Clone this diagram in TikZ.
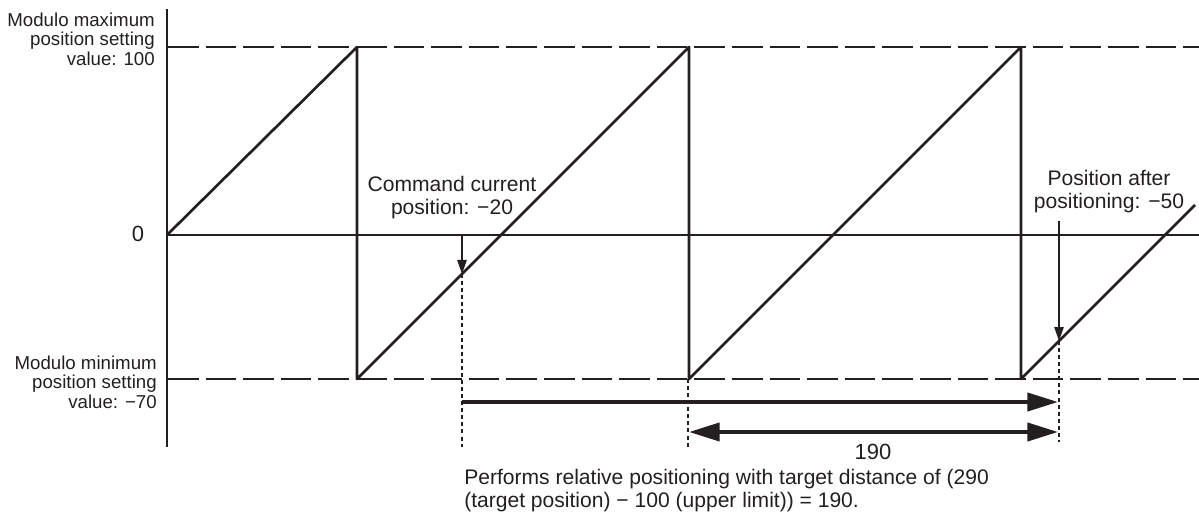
\documentclass[tikz,border=0pt]{standalone}
\usepackage{fontspec}
\setmainfont{Liberation Sans}
\usetikzlibrary{arrows.meta}
\definecolor{ink}{HTML}{231F20}
\begin{document}
\begin{tikzpicture}[x=0.75pt,y=-0.75pt,
  axisline/.style={line width=1.8pt, draw=ink},
  zeroline/.style={line width=1.1pt, draw=ink},
  limitline/.style={line width=2.2pt, draw=ink, dash pattern=on 22.9pt off 5.3pt},
  wave/.style={line width=2pt, draw=ink, line join=round},
  guide/.style={line width=1.1pt, draw=ink, dash pattern=on 3pt off 2.3pt},
  pointer/.style={line width=1.2pt, draw=ink, fill=ink, -{Triangle[length=10.5pt,width=7pt]}},
  span/.style={line width=3pt, draw=ink, -{Triangle[length=23pt,width=13.5pt]}},
  dspan/.style={line width=3pt, draw=ink, {Triangle[length=23pt,width=13.5pt]}-{Triangle[length=23pt,width=13.5pt]}},
  sidelabel/.style={font=\fontsize{14}{14.6}\selectfont, align=right, inner sep=0pt, text=ink, anchor=east},
  callout/.style={font=\fontsize{15.8}{17.2}\selectfont, align=center, inner sep=0pt, text=ink},
  bignum/.style={font=\fontsize{16.5}{18}\selectfont, inner sep=0pt, text=ink},
  footnote/.style={font=\fontsize{15.8}{17.2}\selectfont, align=left, inner sep=0pt, text=ink, anchor=west}
]
\useasboundingbox (0,0) rectangle (1199,513);

% key coordinates
\coordinate (axtop) at (167,9);
\coordinate (axbot) at (167,447);
\coordinate (z0) at (167,235);
\coordinate (zE) at (1199,235);
\coordinate (max0) at (168,47);
\coordinate (maxE) at (1199,47);
\coordinate (min0) at (168,379);
\coordinate (minE) at (1199,379);
\coordinate (p1) at (357,47);
\coordinate (q1) at (357,379);
\coordinate (p2) at (689,47);
\coordinate (q2) at (689,379);
\coordinate (p3) at (1021,47);
\coordinate (q3) at (1021,379);
\coordinate (wend) at (1195,205);
\coordinate (cmdtop) at (462,235);
\coordinate (cmdpt) at (462,274);
\coordinate (cmdbot) at (462,447);
\coordinate (g2bot) at (688,447);
\coordinate (g2top) at (688,379);
\coordinate (aftop) at (1059,221);
\coordinate (afpt) at (1059,341);
\coordinate (afbot) at (1059,442);
\coordinate (s1a) at (462,402);
\coordinate (s1b) at (1058,402);
\coordinate (s2a) at (689,432);
\coordinate (s2b) at (1058,432);

% axes and limit lines
\draw[limitline] (max0) -- (maxE);
\draw[limitline] (min0) -- (minE);
\draw[zeroline] (z0) -- (zE);
\draw[axisline] (axtop) -- (axbot);

% sawtooth
\draw[wave] (z0) -- (p1) -- (q1) -- (p2) -- (q2) -- (p3) -- (q3) -- (wend);

% guides
\draw[guide] (cmdpt) -- (cmdbot);
\draw[guide] (g2top) -- (g2bot);
\draw[guide] (afpt) -- (afbot);

% pointers
\draw[pointer] (cmdtop) -- (cmdpt);
\draw[pointer] (aftop) -- (afpt);

% spans
\draw[span] (s1a) -- (s1b);
\draw[dspan] (s2a) -- (s2b);

% labels
\node[sidelabel] (maxlbl) at (155,39) {Modulo maximum\\position setting\\value: 100};
\node[sidelabel] (minlbl) at (157,382) {Modulo minimum\\position setting\\value: −70};
\node[bignum] (zerolbl) at (138,234) {0};
\node[callout] (cmdlbl) at (452,198) {Command current\\position: −20};
\node[callout] (aflbl) at (1109,191.5) {Position after\\positioning: −50};
\node[bignum] (dist) at (873,452) {190};
\node[footnote] (foot) at (464,490.5) {Performs relative positioning with target distance of (290\\(target position) − 100 (upper limit)) = 190.};
\end{tikzpicture}
\end{document}
